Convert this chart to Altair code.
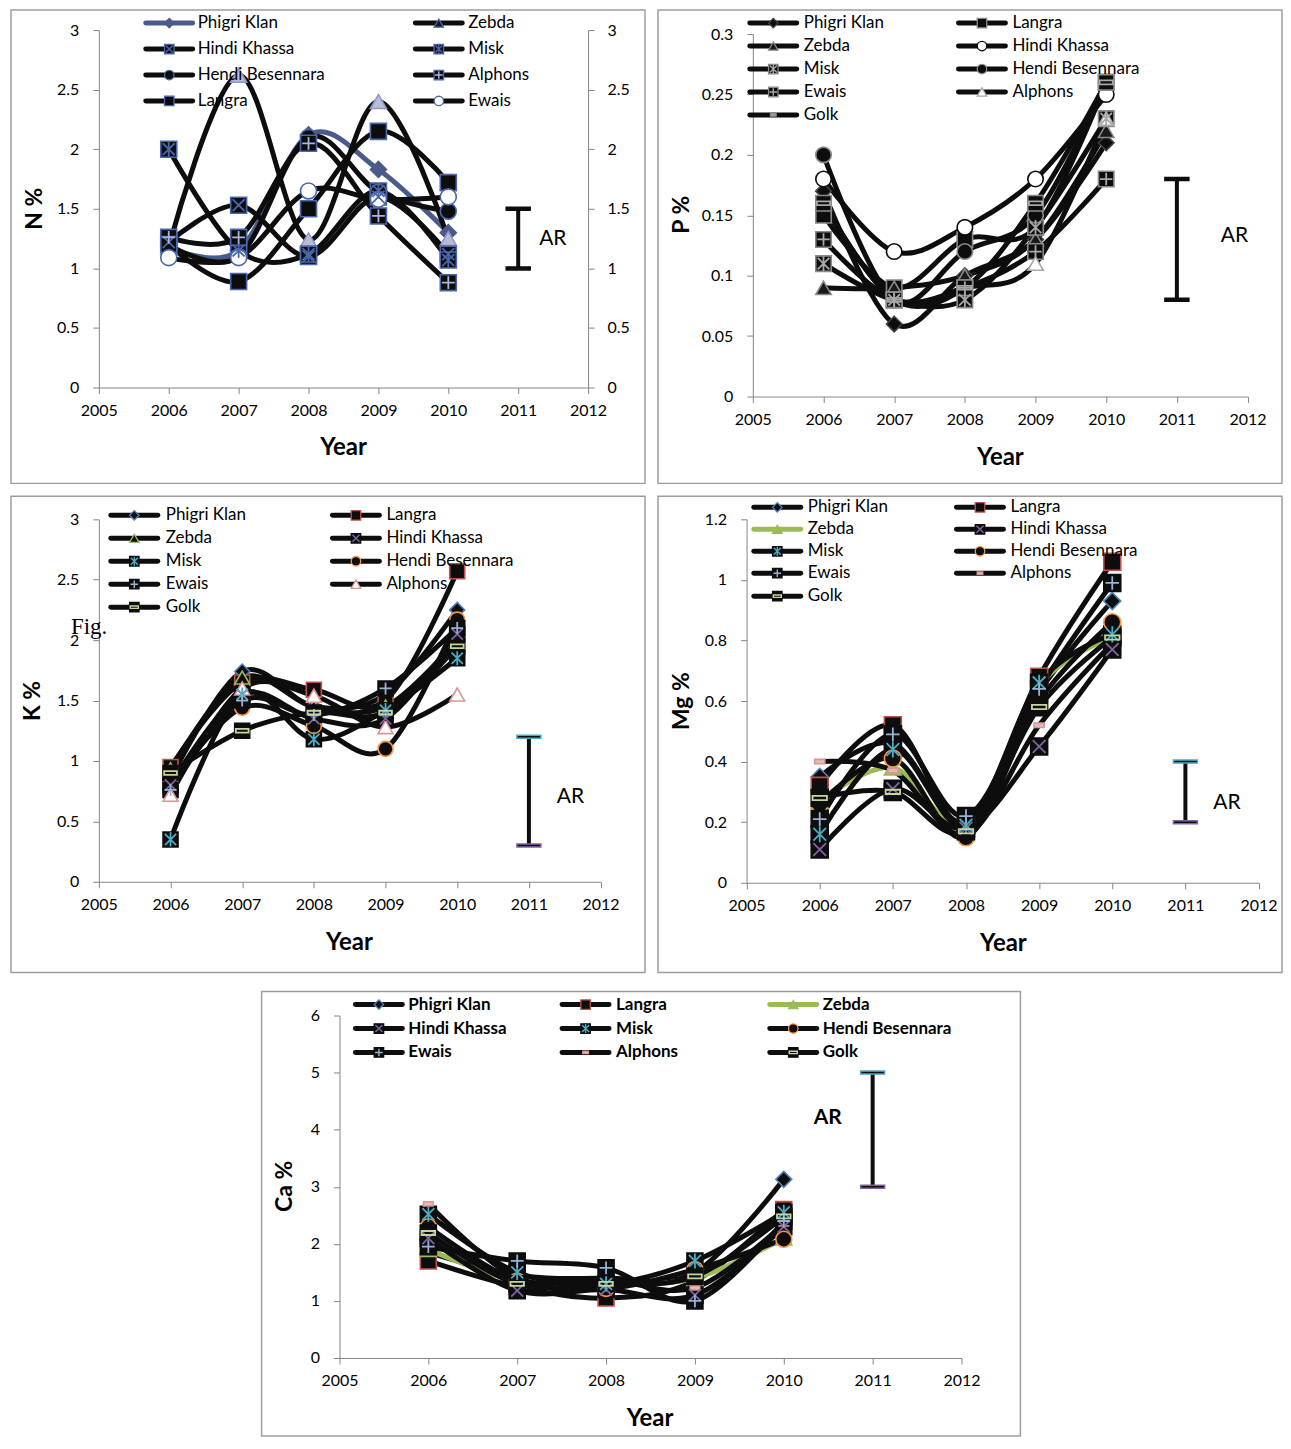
import altair as alt
import pandas as pd

# ---------------- data ----------------
YEARS = [2006, 2007, 2008, 2009, 2010]
AXIS_YEARS = [2005, 2006, 2007, 2008, 2009, 2010, 2011, 2012]

N_NAMES = ["Phigri Klan", "Zebda", "Hindi Khassa", "Misk",
           "Hendi Besennara", "Alphons", "Langra", "Ewais"]
N_VALUES = {
    "Phigri Klan": [1.18, 1.15, 2.12, 1.83, 1.30],
    "Zebda": [1.18, 2.62, 1.24, 2.40, 1.25],
    "Hindi Khassa": [1.22, 1.53, 1.10, 1.60, 1.12],
    "Misk": [2.00, 1.15, 1.12, 1.65, 1.07],
    "Hendi Besennara": [1.20, 1.10, 2.10, 1.64, 1.48],
    "Alphons": [1.26, 1.26, 2.05, 1.44, 0.88],
    "Langra": [1.20, 0.89, 1.50, 2.15, 1.72],
    "Ewais": [1.09, 1.09, 1.65, 1.58, 1.60],
}

NAMES9 = ["Phigri Klan", "Langra", "Zebda", "Hindi Khassa", "Misk",
          "Hendi Besennara", "Ewais", "Alphons", "Golk"]

P_VALUES = {
    "Phigri Klan": [0.17, 0.06, 0.10, 0.13, 0.21],
    "Langra": [0.15, 0.09, 0.13, 0.14, 0.26],
    "Zebda": [0.09, 0.09, 0.10, 0.13, 0.22],
    "Hindi Khassa": [0.18, 0.12, 0.14, 0.18, 0.25],
    "Misk": [0.11, 0.08, 0.08, 0.14, 0.23],
    "Hendi Besennara": [0.20, 0.08, 0.12, 0.15, 0.26],
    "Ewais": [0.13, 0.08, 0.09, 0.12, 0.18],
    "Alphons": [0.16, 0.08, 0.09, 0.11, 0.23],
    "Golk": [0.16, 0.08, 0.09, 0.16, 0.26],
}

K_VALUES = {
    "Phigri Klan": [0.85, 1.74, 1.45, 1.55, 2.25],
    "Langra": [0.95, 1.65, 1.59, 1.50, 2.57],
    "Zebda": [0.93, 1.69, 1.45, 1.45, 2.00],
    "Hindi Khassa": [0.80, 1.55, 1.35, 1.35, 2.05],
    "Misk": [0.35, 1.55, 1.18, 1.42, 1.85],
    "Hendi Besennara": [0.81, 1.44, 1.29, 1.10, 2.17],
    "Ewais": [0.76, 1.50, 1.38, 1.60, 2.10],
    "Alphons": [0.72, 1.60, 1.54, 1.28, 1.55],
    "Golk": [0.90, 1.25, 1.40, 1.40, 1.95],
}

MG_VALUES = {
    "Phigri Klan": [0.35, 0.46, 0.20, 0.63, 0.93],
    "Langra": [0.32, 0.52, 0.19, 0.68, 1.06],
    "Zebda": [0.27, 0.38, 0.19, 0.65, 0.81],
    "Hindi Khassa": [0.11, 0.31, 0.18, 0.45, 0.77],
    "Misk": [0.16, 0.44, 0.19, 0.66, 0.82],
    "Hendi Besennara": [0.26, 0.41, 0.15, 0.60, 0.86],
    "Ewais": [0.21, 0.49, 0.22, 0.64, 0.99],
    "Alphons": [0.40, 0.37, 0.16, 0.52, 0.79],
    "Golk": [0.28, 0.30, 0.17, 0.58, 0.81],
}

CA_VALUES = {
    "Phigri Klan": [1.85, 1.45, 1.40, 1.50, 3.13],
    "Langra": [1.70, 1.25, 1.05, 1.35, 2.60],
    "Zebda": [1.90, 1.35, 1.30, 1.40, 2.10],
    "Hindi Khassa": [2.10, 1.18, 1.20, 1.10, 2.30],
    "Misk": [2.52, 1.50, 1.30, 1.70, 2.55],
    "Hendi Besennara": [2.30, 1.35, 1.22, 1.55, 2.08],
    "Ewais": [1.95, 1.70, 1.58, 1.00, 2.40],
    "Alphons": [2.70, 1.40, 1.38, 1.23, 2.35],
    "Golk": [2.19, 1.30, 1.30, 1.43, 2.48],
}

AR_YEAR = 2011
N_AR = [1.0, 1.5]
P_AR = [0.08, 0.18]
K_AR = [0.3, 1.2]
MG_AR = [0.2, 0.4]
CA_AR = [3.0, 5.0]

# ---------------- styles ----------------
FONT = "Lato"
BLACK = "#0d0d0d"
AXC = "#868686"
FRAME = "#a19c99"

SQ, CI, DI, TR = "square", "circle", "diamond", "triangle-up"
X_PATH = "M-0.75,-0.75L0.75,0.75M-0.75,0.75L0.75,-0.75"
AST_PATH = X_PATH + "M0,-0.95L0,0.95"
PLUS_PATH = "M-0.8,0L0.8,0M0,-0.8L0,0.8"
DASH_PATH = "M-0.85,-0.25L0.85,-0.25L0.85,0.25L-0.85,0.25Z"
SMALL_DASH = "M-0.6,-0.26L0.6,-0.26L0.6,0.26L-0.6,0.26Z"


def st(bshape, bfill, bstroke, oshape="", ostroke="transparent",
       ofill="transparent", line=BLACK):
    return dict(bshape=bshape, bfill=bfill, bstroke=bstroke, oshape=oshape,
                ostroke=ostroke, ofill=ofill, lcolor=line)


BL = "#4a66ac"
N_STYLES = {
    "Phigri Klan": st(DI, "#4a5a8a", "#4a5a8a", line="#4a5a8a"),
    "Zebda": st(TR, "#b7bdd9", "#8f98c4"),
    "Hindi Khassa": st(SQ, BLACK, BL, X_PATH, BL),
    "Misk": st(SQ, BLACK, BL, AST_PATH, BL),
    "Hendi Besennara": st(CI, BLACK, BL),
    "Alphons": st(SQ, BLACK, BL, PLUS_PATH, "#aab6dc"),
    "Langra": st(SQ, BLACK, BL),
    "Ewais": st(CI, "#ffffff", BL),
}
N_LEGEND_OVERRIDE = {"Zebda": st(TR, "#1a1a1a", BL)}

G = "#8a8a8a"
G2 = "#a8a8a8"
P_STYLES = {
    "Phigri Klan": st(DI, BLACK, "#404040"),
    "Langra": st(SQ, BLACK, G),
    "Zebda": st(TR, "#1a1a1a", G),
    "Hindi Khassa": st(CI, "#ffffff", BLACK),
    "Misk": st(SQ, BLACK, G, AST_PATH, G2),
    "Hendi Besennara": st(CI, BLACK, G),
    "Ewais": st(SQ, BLACK, G, PLUS_PATH, G2),
    "Alphons": st(TR, "#ffffff", G2),
    "Golk": st(SQ, BLACK, G, DASH_PATH, G2),
}
P_LEGEND_OVERRIDE = {"Golk": st(SMALL_DASH, "#a8a8a8", "#8a8a8a")}

K_STYLES = {
    "Phigri Klan": st(DI, BLACK, "#4f81bd"),
    "Langra": st(SQ, BLACK, "#c0504d"),
    "Zebda": st(TR, BLACK, "#9bbb59"),
    "Hindi Khassa": st(SQ, BLACK, BLACK, X_PATH, "#8064a2"),
    "Misk": st(SQ, BLACK, BLACK, AST_PATH, "#4bacc6"),
    "Hendi Besennara": st(CI, BLACK, "#f79646"),
    "Ewais": st(SQ, BLACK, BLACK, PLUS_PATH, "#95b3d7"),
    "Alphons": st(TR, "#ffffff", "#d99694"),
    "Golk": st(SQ, BLACK, BLACK, DASH_PATH, "#c3d69b"),
}

MG_STYLES = dict(K_STYLES)
MG_STYLES["Zebda"] = st(TR, "#9bbb59", "#9bbb59", line="#9bbb59")
MG_STYLES["Alphons"] = st(SMALL_DASH, "#e6b9b8", "#d99694")
CA_STYLES = dict(MG_STYLES)

PANELS = [
    dict(names=N_NAMES, values=N_VALUES, styles=N_STYLES, leg_over=N_LEGEND_OVERRIDE,
         w=635, h=474, x0=88, x1=578, y0=378, y1=20, ydom=[0, 3],
         yticks=[0, 0.5, 1, 1.5, 2, 2.5, 3], right=True,
         ncols=2, leg_x=[135, 405], leg_tx=[187, 458], leg_y=[13, 39, 65, 91],
         bold_leg=False, ar=N_AR, ar_dx=21, ar_dy=0, ar_align="left",
         ar_bold=False, caps=(BLACK, BLACK), ytitle="N %", ytpos=(24, 199),
         yearpos=(333, 439), msize=256),
    dict(names=NAMES9, values=P_VALUES, styles=P_STYLES, leg_over=P_LEGEND_OVERRIDE,
         w=625, h=474, x0=95, x1=590.5, y0=387, y1=24, ydom=[0, 0.3],
         yticks=[0, 0.05, 0.1, 0.15, 0.2, 0.25, 0.3], right=False,
         ncols=2, leg_x=[92, 301], leg_tx=[146, 355], leg_y=[13, 36, 59, 82, 105],
         bold_leg=False, ar=P_AR, ar_dx=44, ar_dy=-3, ar_align="left",
         ar_bold=False, caps=(BLACK, BLACK), ytitle="P %", ytpos=(24, 205),
         yearpos=(343, 449), msize=240),
    dict(names=NAMES9, values=K_VALUES, styles=K_STYLES, w=635, h=477,
         x0=88, x1=590.5, y0=386, y1=23, ydom=[0, 3],
         yticks=[0, 0.5, 1, 1.5, 2, 2.5, 3], right=False,
         ncols=2, leg_x=[100, 322], leg_tx=[155, 376], leg_y=[19, 42, 65, 88, 111],
         bold_leg=False, ar=K_AR, ar_dx=28, ar_dy=6, ar_align="left",
         ar_bold=False, caps=("#4bacc6", "#8064a2"), ytitle="K %", ytpos=(22, 205),
         yearpos=(339, 447), msize=225, fig=True),
    dict(names=NAMES9, values=MG_VALUES, styles=MG_STYLES, w=625, h=477,
         x0=88.75, x1=601.5, y0=387, y1=23, ydom=[0, 1.2],
         yticks=[0, 0.2, 0.4, 0.6, 0.8, 1, 1.2], right=False,
         ncols=2, leg_x=[96, 299], leg_tx=[150, 353], leg_y=[11, 33, 55, 77, 100],
         bold_leg=False, ar=MG_AR, ar_dx=28, ar_dy=11, ar_align="left",
         ar_bold=False, caps=("#4bacc6", "#8064a2"), ytitle="Mg %", ytpos=(24, 205),
         yearpos=(346, 448), msize=289),
    dict(names=NAMES9, values=CA_VALUES, styles=CA_STYLES, w=760, h=445,
         x0=78, x1=701, y0=367, y1=24, ydom=[0, 6],
         yticks=[0, 1, 2, 3, 4, 5, 6], right=False,
         ncols=3, leg_x=[94, 301, 509], leg_tx=[147, 355, 562], leg_y=[13, 37, 61],
         bold_leg=True, ar=CA_AR, ar_dx=-31, ar_dy=-12, ar_align="right",
         ar_bold=True, caps=("#4bacc6", "#8064a2"), ytitle="Ca %", ytpos=(23, 195),
         yearpos=(389, 428), msize=256),
]


def text_layer(s, x, y, size, weight="normal", angle=0, font=FONT, align="center"):
    return alt.Chart(pd.DataFrame({"t": [s]})).mark_text(
        font=font, fontSize=size, fontWeight=weight, angle=angle, align=align,
        baseline="middle", color="#000000"
    ).encode(text="t:N", x=alt.value(x), y=alt.value(y))


def build_panel(c):
    xs = alt.Scale(domain=[2005, 2012], range=[c["x0"], c["x1"]], nice=False, zero=False)
    ys = alt.Scale(domain=c["ydom"], range=[c["y0"], c["y1"]], nice=False, zero=False)

    rows = []
    for i, name in enumerate(c["names"]):
        for yr, v in zip(YEARS, c["values"][name]):
            r = dict(series=name, idx=i, year=yr, value=v)
            r.update(c["styles"][name])
            rows.append(r)
    df = pd.DataFrame(rows)

    common_axis = dict(tickSize=6, tickColor=AXC, domainColor=AXC, domainWidth=1,
                       tickWidth=1, labelFont=FONT, labelFontSize=16,
                       labelColor="#000000", grid=False, title=None,
                       labelOverlap=False, labelFlush=False)
    xaxis = alt.Axis(values=AXIS_YEARS, format="d", offset=c["y0"] - c["h"],
                     labelPadding=9, **common_axis)
    yaxis = alt.Axis(values=c["yticks"], format="~g", offset=-c["x0"],
                     labelPadding=14, orient="left", **common_axis)

    lines = alt.Chart(df).mark_line(
        interpolate="cardinal", strokeWidth=5, strokeCap="round", strokeJoin="round"
    ).encode(
        x=alt.X("year:Q", scale=xs, axis=xaxis),
        y=alt.Y("value:Q", scale=ys, axis=yaxis),
        stroke=alt.Stroke("lcolor:N", scale=None),
        detail="series:N",
        order="year:Q",
    )

    if c["right"]:
        ybase = alt.Y("value:Q", scale=ys, axis=alt.Axis(
            values=c["yticks"], format="~g", offset=c["x1"] - c["w"],
            labelPadding=13, orient="right", **common_axis))
    else:
        ybase = alt.Y("value:Q", scale=ys, axis=None)

    base = alt.Chart(df).mark_point(
        filled=True, size=c["msize"], strokeWidth=1.6, opacity=1, fillOpacity=1
    ).encode(
        x=alt.X("year:Q", scale=xs, axis=None),
        y=ybase,
        shape=alt.Shape("bshape:N", scale=None),
        fill=alt.Fill("bfill:N", scale=None),
        stroke=alt.Stroke("bstroke:N", scale=None),
    )
    ov = alt.Chart(df[df["oshape"] != ""]).mark_point(
        filled=True, size=c["msize"], strokeWidth=1.8, opacity=1
    ).encode(
        x=alt.X("year:Q", scale=xs, axis=None),
        y=alt.Y("value:Q", scale=ys, axis=None),
        shape=alt.Shape("oshape:N", scale=None),
        fill=alt.Fill("ofill:N", scale=None),
        stroke=alt.Stroke("ostroke:N", scale=None),
    )

    # AR bar
    lo, hi = c["ar"]
    ar_df = pd.DataFrame({"year": [AR_YEAR], "lo": [lo], "hi": [hi],
                          "mid": [(lo + hi) / 2], "label": ["AR"]})
    ar_rule = alt.Chart(ar_df).mark_rule(color=BLACK, strokeWidth=4).encode(
        x=alt.X("year:Q", scale=xs, axis=None),
        y=alt.Y("lo:Q", scale=ys, axis=None), y2="hi:Q")
    cap_top = alt.Chart(ar_df).mark_tick(
        orient="horizontal", size=24, thickness=3, fill=BLACK, stroke=c["caps"][0],
        strokeWidth=1.5, opacity=1
    ).encode(x=alt.X("year:Q", scale=xs, axis=None), y=alt.Y("hi:Q", scale=ys, axis=None))
    cap_bot = alt.Chart(ar_df).mark_tick(
        orient="horizontal", size=24, thickness=3, fill=BLACK, stroke=c["caps"][1],
        strokeWidth=1.5, opacity=1
    ).encode(x=alt.X("year:Q", scale=xs, axis=None), y=alt.Y("lo:Q", scale=ys, axis=None))
    ar_text = alt.Chart(ar_df).mark_text(
        align=c["ar_align"], baseline="middle", dx=c["ar_dx"], dy=c["ar_dy"],
        font=FONT, fontSize=21, fontWeight="bold" if c["ar_bold"] else "normal",
        color="#000000"
    ).encode(x=alt.X("year:Q", scale=xs, axis=None),
             y=alt.Y("mid:Q", scale=ys, axis=None), text="label:N")

    # legend
    leg_len = 47
    lrows = []
    over = c.get("leg_over", {})
    for i, name in enumerate(c["names"]):
        r_i, c_i = divmod(i, c["ncols"])
        lx0 = c["leg_x"][c_i]
        r = dict(series=name, lx0=lx0, lx1=lx0 + leg_len, mx=lx0 + leg_len / 2,
                 ly=c["leg_y"][r_i], tx=c["leg_tx"][c_i])
        r.update(over.get(name, c["styles"][name]))
        lrows.append(r)
    ldf = pd.DataFrame(lrows)
    leg_line = alt.Chart(ldf).mark_rule(strokeWidth=5, strokeCap="round").encode(
        x=alt.X("lx0:Q", scale=None, axis=None), x2="lx1:Q",
        y=alt.Y("ly:Q", scale=None, axis=None),
        stroke=alt.Stroke("lcolor:N", scale=None))
    leg_base = alt.Chart(ldf).mark_point(filled=True, size=90, strokeWidth=1.3, opacity=1).encode(
        x=alt.X("mx:Q", scale=None, axis=None), y=alt.Y("ly:Q", scale=None, axis=None),
        shape=alt.Shape("bshape:N", scale=None),
        fill=alt.Fill("bfill:N", scale=None),
        stroke=alt.Stroke("bstroke:N", scale=None))
    leg_ov = alt.Chart(ldf[ldf["oshape"] != ""]).mark_point(
        filled=True, size=90, strokeWidth=1.4, opacity=1).encode(
        x=alt.X("mx:Q", scale=None, axis=None), y=alt.Y("ly:Q", scale=None, axis=None),
        shape=alt.Shape("oshape:N", scale=None),
        fill=alt.Fill("ofill:N", scale=None),
        stroke=alt.Stroke("ostroke:N", scale=None))
    leg_text = alt.Chart(ldf).mark_text(
        align="left", baseline="middle", font=FONT, fontSize=17,
        fontWeight="bold" if c["bold_leg"] else "normal", color="#000000"
    ).encode(x=alt.X("tx:Q", scale=None, axis=None),
             y=alt.Y("ly:Q", scale=None, axis=None), text="series:N")

    layers = [lines, base, ov, ar_rule, cap_top, cap_bot, ar_text,
              leg_line, leg_base, leg_ov, leg_text,
              text_layer(c["ytitle"], c["ytpos"][0], c["ytpos"][1], 23, "bold", 270),
              text_layer("Year", c["yearpos"][0], c["yearpos"][1], 24, "bold")]
    if c.get("fig"):
        layers.append(text_layer("Fig.", 60, 131, 23, "normal", 0,
                                 font="Liberation Serif", align="left"))
    return alt.layer(*layers).resolve_scale(x="independent", y="independent").properties(
        width=c["w"], height=c["h"])


p1, p2, p3, p4, p5 = [build_panel(c) for c in PANELS]

spacer = alt.Chart(pd.DataFrame({"t": [0]})).mark_point(opacity=0).encode(
    x=alt.value(0), y=alt.value(0)
).properties(width=250, height=20, view=alt.ViewBackground(strokeOpacity=0))

row1 = alt.hconcat(p1, p2, spacing=11)
row2 = alt.hconcat(p3, p4, spacing=11)
row3 = alt.hconcat(spacer, p5, spacing=0)

chart = alt.vconcat(
    alt.vconcat(row1, row2, spacing=11), row3, spacing=15
).properties(padding=0).configure_view(stroke=FRAME, strokeWidth=1.5)

chart.save("out.html", embed_options={"renderer": "svg", "actions": False})
